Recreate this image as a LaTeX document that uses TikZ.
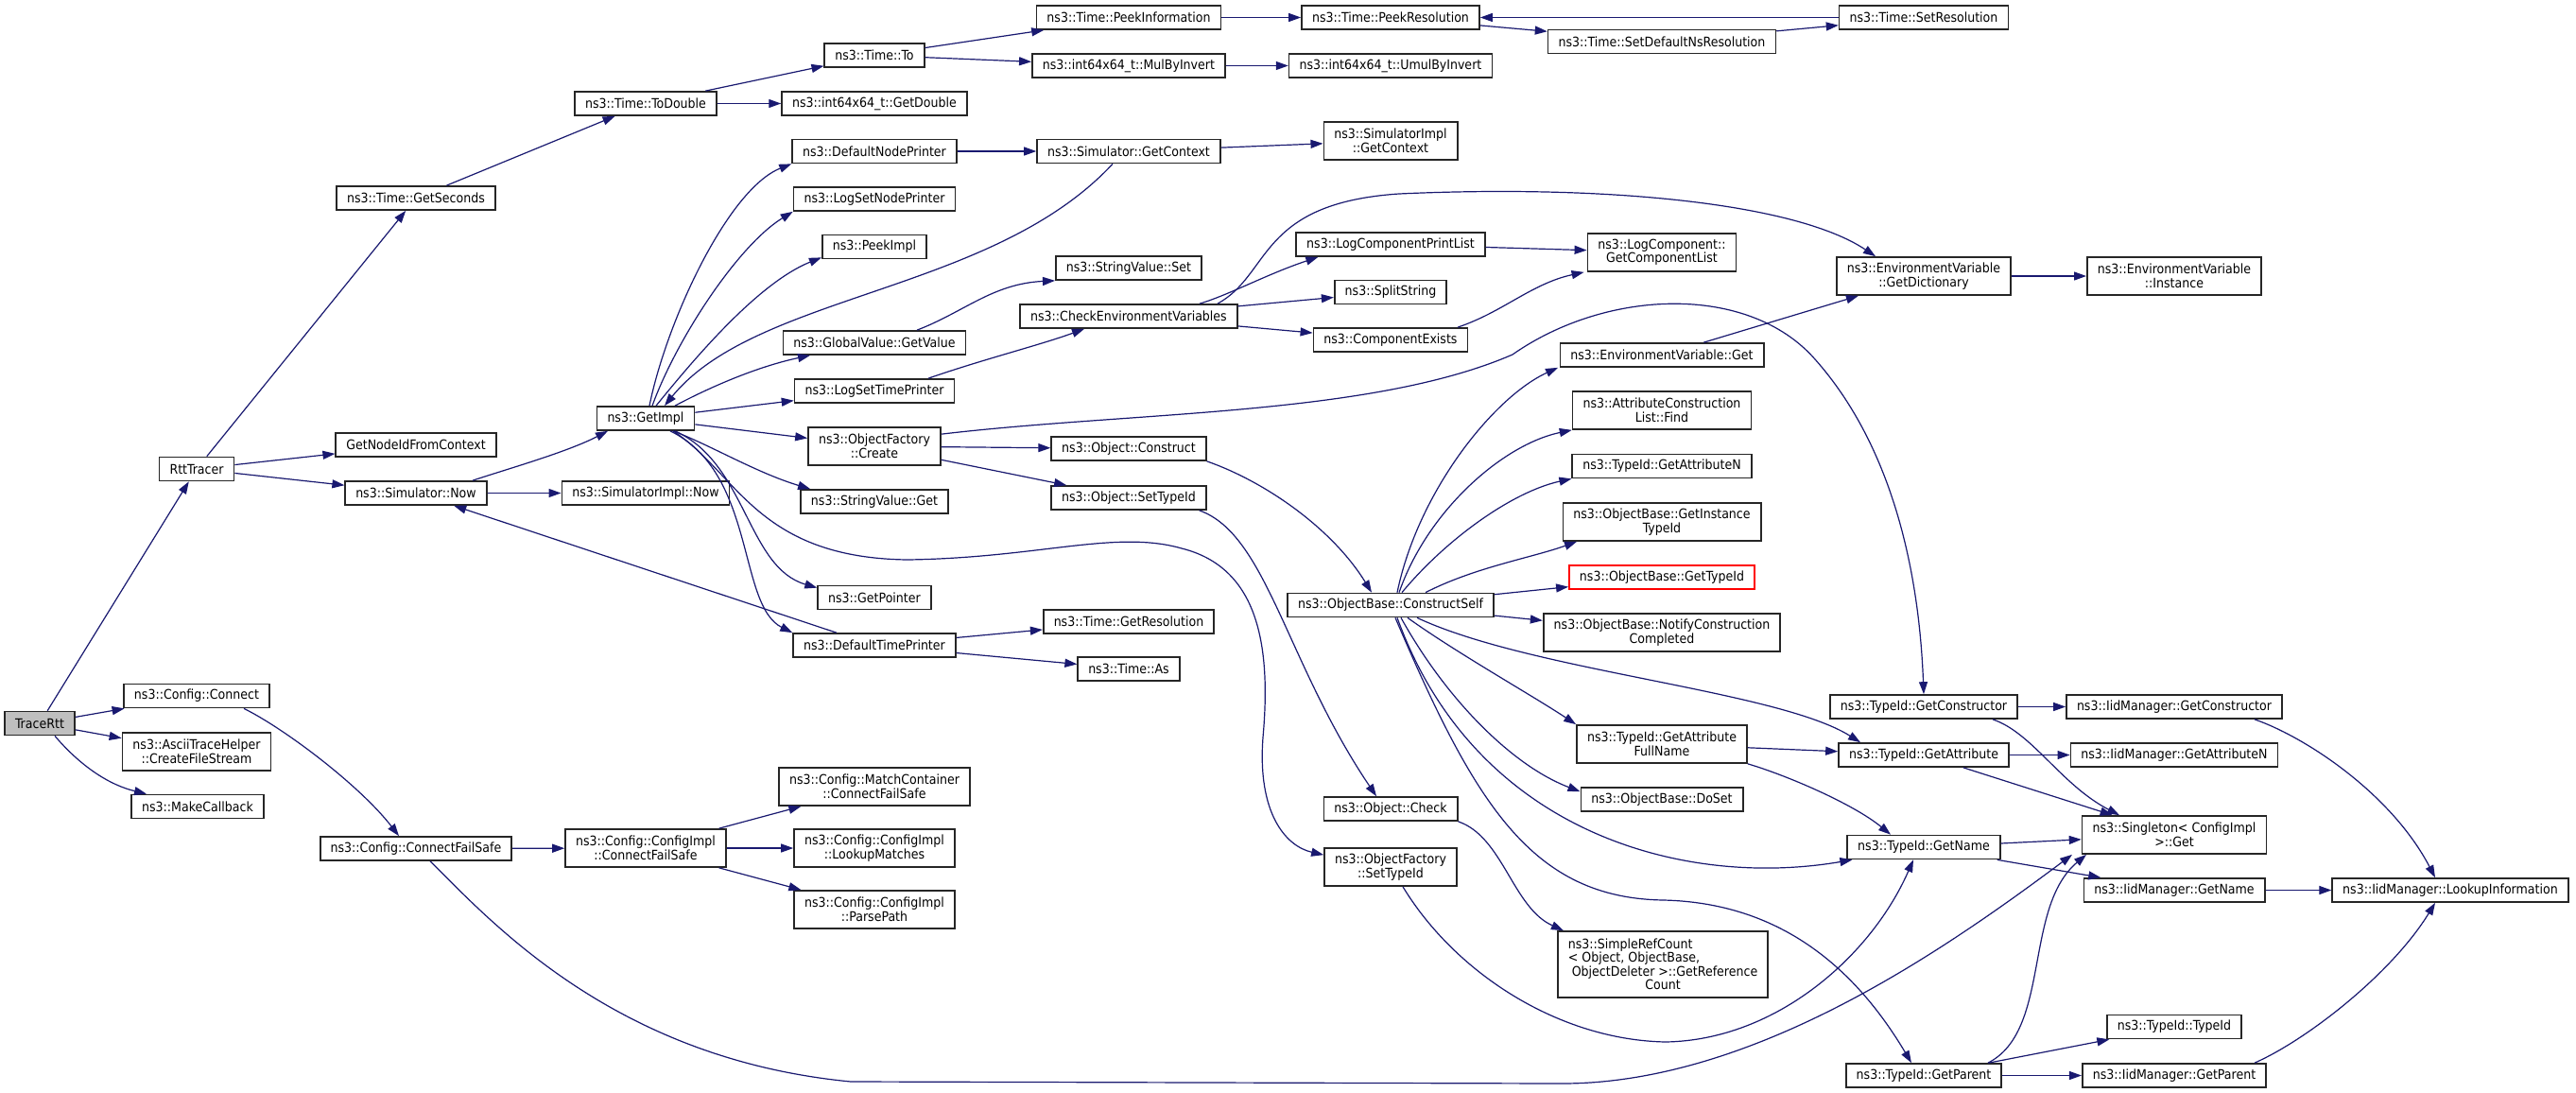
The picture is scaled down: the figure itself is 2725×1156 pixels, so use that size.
\documentclass[tikz,border=0pt]{standalone}
\usepackage{fontspec}
\setmainfont{DejaVu Sans Condensed}
\usetikzlibrary{arrows.meta}
\definecolor{edgeblue}{HTML}{191970}
\definecolor{boxgray}{HTML}{262626}
\definecolor{rootgray}{HTML}{BFBFBF}

\begin{document}
\begin{tikzpicture}[x=1pt,y=-1pt,
	>={Triangle[length=13pt,width=9pt]},
	fn/.style={
		draw=boxgray,
		line width=1.7pt,
		fill=white,
		minimum height=25pt,
		inner xsep=11pt,
		inner ysep=0pt,
		align=center,
		font=\fontsize{14}{14.5}\selectfont,
	},
	fn2/.style={fn,minimum height=40pt},
	fn4/.style={fn,minimum height=70pt},
	call/.style={->,draw=edgeblue,line width=1.2pt},
]
	\path[use as bounding box,fill=white] (0,0) rectangle (2725,1156);

	\node[fn,fill=rootgray] (trace) at (42,765) {TraceRtt};

	\node[fn] (rtt) at (208,496) {RttTracer};
	\node[fn] (cfgconn) at (208,736) {ns3::Config::Connect};
	\node[fn2] (ascii) at (208,795) {ns3::AsciiTraceHelper\\::CreateFileStream};
	\node[fn] (mkcb) at (209,853) {ns3::MakeCallback};

	\node[fn] (getsec) at (440,209.5) {ns3::Time::GetSeconds};
	\node[fn] (nodeid) at (440,470.5) {GetNodeIdFromContext};
	\node[fn] (simnow) at (440,521.5) {ns3::Simulator::Now};
	\node[fn] (failsafe) at (440,897.5) {ns3::Config::ConnectFailSafe};

	\node[fn] (todbl) at (683,109.5) {ns3::Time::ToDouble};
	\node[fn] (getimpl) at (683,442.5) {ns3::GetImpl};
	\node[fn] (implnow) at (683,521.5) {ns3::SimulatorImpl::Now};
	\node[fn2] (cfgimpl) at (683,897) {ns3::Config::ConfigImpl\\::ConnectFailSafe};

	\node[fn] (timeto) at (925,58.5) {ns3::Time::To};
	\node[fn] (getdbl) at (925,109.5) {ns3::int64x64\_t::GetDouble};
	\node[fn] (nodeprn) at (925,160) {ns3::DefaultNodePrinter};
	\node[fn] (setnodeprn) at (925,210.5) {ns3::LogSetNodePrinter};
	\node[fn] (peekimpl) at (925,261) {ns3::PeekImpl};
	\node[fn] (gvget) at (925,362.5) {ns3::GlobalValue::GetValue};
	\node[fn] (settimeprn) at (925,413.5) {ns3::LogSetTimePrinter};
	\node[fn2] (ofcreate) at (925,472) {ns3::ObjectFactory\\::Create};
	\node[fn] (svget) at (925,530.5) {ns3::StringValue::Get};
	\node[fn] (getptr) at (925,632) {ns3::GetPointer};
	\node[fn] (timeprn) at (925,682.5) {ns3::DefaultTimePrinter};
	\node[fn2] (match) at (925,832) {ns3::Config::MatchContainer\\::ConnectFailSafe};
	\node[fn2] (lookup) at (925,897) {ns3::Config::ConfigImpl\\::LookupMatches};
	\node[fn2] (parse) at (925,962) {ns3::Config::ConfigImpl\\::ParsePath};

	\node[fn] (peekinfo) at (1194,18.5) {ns3::Time::PeekInformation};
	\node[fn] (mulinv) at (1194,69.5) {ns3::int64x64\_t::MulByInvert};
	\node[fn] (getctx) at (1194,160) {ns3::Simulator::GetContext};
	\node[fn] (svset) at (1194,283.5) {ns3::StringValue::Set};
	\node[fn] (checkenv) at (1194,334.5) {ns3::CheckEnvironmentVariables};
	\node[fn] (construct) at (1194,474.5) {ns3::Object::Construct};
	\node[fn] (settid) at (1194,526.5) {ns3::Object::SetTypeId};
	\node[fn] (getres) at (1194,657.5) {ns3::Time::GetResolution};
	\node[fn] (timeas) at (1194,707.5) {ns3::Time::As};

	\node[fn] (peekres) at (1471,18.5) {ns3::Time::PeekResolution};
	\node[fn] (umul) at (1471,69.5) {ns3::int64x64\_t::UmulByInvert};
	\node[fn2] (implctx) at (1471,149) {ns3::SimulatorImpl\\::GetContext};
	\node[fn] (printlist) at (1471,258.5) {ns3::LogComponentPrintList};
	\node[fn] (split) at (1471,309) {ns3::SplitString};
	\node[fn] (compexists) at (1471,359.5) {ns3::ComponentExists};
	\node[fn] (cself) at (1471,640) {ns3::ObjectBase::ConstructSelf};
	\node[fn] (check) at (1471,855.5) {ns3::Object::Check};
	\node[fn2] (ofsettid) at (1471,917) {ns3::ObjectFactory\\::SetTypeId};

	\node[fn] (setdefres) at (1758,44) {ns3::Time::SetDefaultNsResolution};
	\node[fn2] (complist) at (1758,267) {ns3::LogComponent::\\GetComponentList};
	\node[fn] (envget) at (1758,375.5) {ns3::EnvironmentVariable::Get};
	\node[fn2] (attfind) at (1758,434) {ns3::AttributeConstruction\\List::Find};
	\node[fn] (getattn) at (1758,493) {ns3::TypeId::GetAttributeN};
	\node[fn2] (insttid) at (1758,552) {ns3::ObjectBase::GetInstance\\TypeId};
	\node[fn,draw=red] (gettid) at (1758,610.5) {ns3::ObjectBase::GetTypeId};
	\node[fn2] (notify) at (1758,669) {ns3::ObjectBase::NotifyConstruction\\Completed};
	\node[fn2] (fullname) at (1758,787) {ns3::TypeId::GetAttribute\\FullName};
	\node[fn] (doset) at (1758,845.5) {ns3::ObjectBase::DoSet};
	\node[fn4,align=left] (refcount) at (1759,1020) {ns3::SimpleRefCount\\< Object, ObjectBase,\\\ ObjectDeleter >::GetReference\\\hfill Count\hfill\mbox{}};

	\node[fn] (setres) at (2035,18.5) {ns3::Time::SetResolution};
	\node[fn2] (dict) at (2035,292) {ns3::EnvironmentVariable\\::GetDictionary};
	\node[fn] (tidctor) at (2035,747.5) {ns3::TypeId::GetConstructor};
	\node[fn] (tidattr) at (2035,798.5) {ns3::TypeId::GetAttribute};
	\node[fn] (tidname) at (2035,896) {ns3::TypeId::GetName};
	\node[fn] (tidparent) at (2035,1137.5) {ns3::TypeId::GetParent};

	\node[fn2] (instance) at (2300,292) {ns3::EnvironmentVariable\\::Instance};
	\node[fn] (iidctor) at (2300,747.5) {ns3::IidManager::GetConstructor};
	\node[fn] (iidattrn) at (2300,798.5) {ns3::IidManager::GetAttributeN};
	\node[fn2] (singleton) at (2300,883) {ns3::Singleton< ConfigImpl\\>::Get};
	\node[fn] (iidname) at (2300,941.5) {ns3::IidManager::GetName};
	\node[fn] (tidtid) at (2300,1086) {ns3::TypeId::TypeId};
	\node[fn] (iidparent) at (2300,1137.5) {ns3::IidManager::GetParent};

	\node[fn] (lookupinfo) at (2592,941.5) {ns3::IidManager::LookupInformation};

	% straight calls
	\foreach \a/\b in {trace/rtt,trace/cfgconn,trace/ascii,rtt/getsec,rtt/nodeid,
		rtt/simnow,simnow/implnow,timeprn/simnow,failsafe/cfgimpl,getsec/todbl,
		todbl/timeto,todbl/getdbl,timeto/peekinfo,timeto/mulinv,peekinfo/peekres,
		mulinv/umul,peekres/setdefres,setdefres/setres,setres/peekres,nodeprn/getctx,
		getctx/implctx,getimpl/settimeprn,getimpl/ofcreate,ofcreate/construct,
		ofcreate/settid,timeprn/getres,timeprn/timeas,cfgimpl/match,cfgimpl/lookup,
		cfgimpl/parse,checkenv/split,checkenv/compexists,printlist/complist,
		envget/dict,dict/instance,cself/gettid,cself/notify,fullname/tidattr,
		tidctor/iidctor,tidattr/iidattrn,tidattr/singleton,tidname/singleton,
		tidname/iidname,iidname/lookupinfo,tidparent/tidtid,tidparent/iidparent}{
		\draw[call] (\a) -- (\b);
	}

	% curved calls
	\draw[call] ([xshift=16pt]trace.south) .. controls (85,810) and (115,830) .. ([xshift=-54pt]mkcb.north);
	\draw[call] ([xshift=50pt]cfgconn.south) .. controls (300,770) and (380,830) .. ([xshift=-18pt]failsafe.north);
	\draw[call] ([xshift=15pt]failsafe.south) .. controls (520,975) and (650,1120) .. (900,1144)
		-- (1650,1146) .. controls (1850,1147) and (2050,1010) .. ([xshift=-108pt]singleton.south);
	\draw[call] ([xshift=60pt]simnow.north) .. controls (540,495) and (600,478) .. ([xshift=-40pt]getimpl.south);
	\draw[call] ([xshift=4pt]getimpl.north) .. controls (705,340) and (770,200) .. (nodeprn.south west);
	\draw[call] ([xshift=7pt]getimpl.north) .. controls (715,360) and (780,260) .. (setnodeprn.south west);
	\draw[call] ([xshift=11pt]getimpl.north) .. controls (730,385) and (800,300) .. ([yshift=2pt]peekimpl.south west);
	\draw[call] ([xshift=-17pt]getctx.south) .. controls (1050,310) and (800,310) .. ([xshift=20pt]getimpl.north);
	\draw[call] ([xshift=31pt]getimpl.north) .. controls (750,410) and (800,388) .. ([xshift=-68pt]gvget.south);
	\draw[call] ([xshift=45pt]gvget.north) .. controls (1020,330) and (1050,300) .. (svset.south west);
	\draw[call] ([xshift=57pt]settimeprn.north) .. controls (1040,380) and (1100,365) .. ([xshift=-47pt]checkenv.south);
	\draw[call] ([xshift=75pt]checkenv.north) .. controls (1300,312) and (1340,290) .. ([xshift=24pt]printlist.south west);
	\draw[call] ([xshift=94pt]checkenv.north) .. controls (1345,290) and (1330,215) .. (1480,205)
		.. controls (1700,195) and (1900,215) .. ([xshift=-51pt]dict.north);
	\draw[call] ([xshift=71pt]compexists.north) .. controls (1590,330) and (1620,300) .. ([xshift=-3pt]complist.south west);
	\draw[call] ([yshift=-8pt]ofcreate.north east) .. controls (1200,435) and (1450,440) .. (1600,375)
		.. controls (1700,305) and (1850,300) .. (1920,380)
		.. controls (2000,470) and (2030,600) .. (tidctor.north);
	\draw[call] ([xshift=29pt]getimpl.south) .. controls (750,470) and (800,500) .. ([xshift=11pt]svget.north west);
	\draw[call] ([xshift=31pt]getimpl.south) .. controls (790,490) and (790,600) .. ([yshift=-3pt]getptr.north west);
	\draw[call] ([xshift=26pt]getimpl.south) .. controls (800,500) and (780,640) .. (timeprn.north west);
	\draw[call] ([xshift=29pt]getimpl.south) .. controls (780,500) and (800,590) .. (960,592)
		.. controls (1100,590) and (1180,560) .. (1250,580)
		.. controls (1330,600) and (1345,680) .. (1336,780)
		.. controls (1330,860) and (1360,895) .. ([yshift=-8pt]ofsettid.north west);
	\draw[call] (construct.south east) .. controls (1340,510) and (1410,560) .. ([xshift=-20pt]cself.north);
	\draw[call] ([xshift=-8pt]settid.south east) .. controls (1340,565) and (1360,700) .. ([xshift=-15pt]check.north);
	\draw[call] (check.south east) .. controls (1590,885) and (1600,960) .. ([xshift=7pt]refcount.north west);
	\draw[call] ([xshift=13pt]ofsettid.south) .. controls (1540,1030) and (1650,1100) .. (1762,1102)
		.. controls (1880,1100) and (1980,1010) .. ([xshift=-11pt]tidname.south);
	\draw[call] ([xshift=7pt]cself.north) .. controls (1500,520) and (1580,420) .. ([xshift=-110pt]envget.south);
	\draw[call] ([xshift=9pt]cself.north) .. controls (1510,540) and (1590,470) .. (attfind.south west);
	\draw[call] ([xshift=12pt]cself.north) .. controls (1530,570) and (1600,520) .. (getattn.south west);
	\draw[call] ([xshift=37pt]cself.north) .. controls (1560,600) and (1620,590) .. ([xshift=-90pt]insttid.south);
	\draw[call] ([xshift=18pt]cself.south) .. controls (1540,690) and (1620,735) .. (fullname.north west);
	\draw[call] ([xshift=28pt]cself.south) .. controls (1620,710) and (1880,730) .. ([xshift=-67pt]tidattr.north);
	\draw[call] ([xshift=11pt]cself.south) .. controls (1530,740) and (1600,810) .. ([yshift=-5pt]doset.north west);
	\draw[call] ([xshift=7pt]cself.south) .. controls (1560,880) and (1780,940) .. ([xshift=6pt]tidname.south west);
	\draw[call] ([xshift=5pt]cself.south) .. controls (1560,850) and (1620,950) .. (1760,952)
		.. controls (1880,955) and (1960,1020) .. ([xshift=-13pt]tidparent.north);
	\draw[call] (fullname.south east) .. controls (1890,820) and (1960,850) .. ([xshift=-35pt]tidname.north);
	\draw[call] ([xshift=73pt]tidctor.south) .. controls (2150,775) and (2180,830) .. ([xshift=-58pt]singleton.north);
	\draw[call] ([xshift=68pt]tidparent.north) .. controls (2170,1090) and (2140,960) .. ([xshift=-93pt]singleton.south);
	\draw[call] ([xshift=85pt]iidctor.south) .. controls (2440,780) and (2530,840) .. ([xshift=-16pt]lookupinfo.north);
	\draw[call] ([xshift=85pt]iidparent.north) .. controls (2440,1100) and (2530,1030) .. ([xshift=-16pt]lookupinfo.south);
\end{tikzpicture}
\end{document}
